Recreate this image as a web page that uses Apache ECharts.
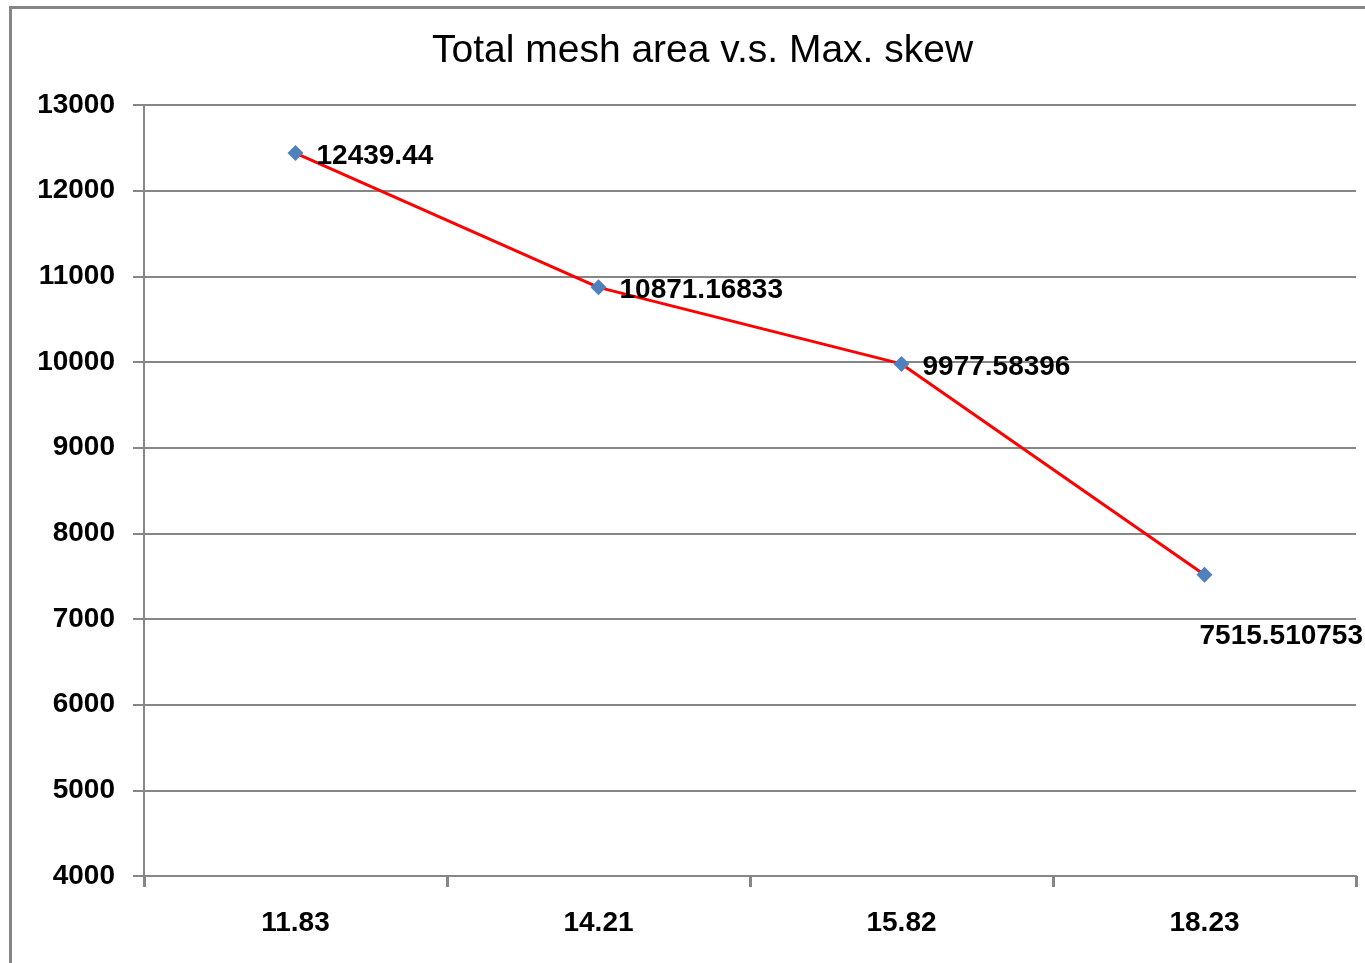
<!DOCTYPE html>
<html>
<head>
<meta charset="utf-8">
<script src="https://cdn.jsdelivr.net/npm/echarts@6/dist/echarts.min.js"></script>
<style>
  html, body { margin: 0; padding: 0; background: #fff; }
  #chart { width: 1365px; height: 963px; }
</style>
</head>
<body>
<div id="chart"></div>
<script>
var skews = ['11.83', '14.21', '15.82', '18.23'];
var areas = [12439.44, 10871.16833, 9977.58396, 7515.510753];
var areaLabels = ['12439.44', '10871.16833', '9977.58396', '7515.510753'];

var gray = '#868686';
var font = '"Liberation Sans", Arial, sans-serif';

var points = areas.map(function(v, i){
    var item = { value: v };
    if (i === areas.length - 1) {
        // last label sits under the point
        item.label = { position: [3, 66], align: 'left', verticalAlign: 'middle' };
    }
    return item;
});

var option = {
    backgroundColor: '#fff',
    animation: false,
    graphic: [{
        type: 'rect',
        shape: { x: 10.5, y: 7.5, width: 1400, height: 1000 },
        style: { fill: 'none', stroke: gray, lineWidth: 3 },
        silent: true
    }],
    title: {
        text: 'Total mesh area v.s. Max. skew',
        left: 427,
        top: 27,
        textStyle: { fontFamily: font, fontSize: 39, fontWeight: 'normal', color: '#000' }
    },
    grid: { left: 144, top: 105, width: 1212, height: 771, containLabel: false },
    xAxis: {
        type: 'category',
        data: skews,
        boundaryGap: true,
        axisLine: { lineStyle: { color: gray, width: 2 } },
        axisTick: { show: true, length: 11, lineStyle: { color: gray, width: 3 } },
        axisLabel: { margin: 33, fontFamily: font, fontSize: 28, fontWeight: 'bold', color: '#000' },
        splitLine: { show: false }
    },
    yAxis: {
        type: 'value',
        min: 4000,
        max: 13000,
        interval: 1000,
        axisLine: { show: true, lineStyle: { color: gray, width: 2 } },
        axisTick: { show: true, length: 11, lineStyle: { color: gray, width: 2 } },
        axisLabel: {
            margin: 29, fontFamily: font, fontSize: 28, fontWeight: 'bold', color: '#000',
            formatter: function(v){ return String(v); }
        },
        splitLine: { show: true, lineStyle: { color: gray, width: 2 } }
    },
    series: [{
        name: 'Total mesh area',
        type: 'line',
        data: points,
        symbol: 'diamond',
        symbolSize: 16,
        itemStyle: { color: '#4f81bd' },
        lineStyle: { color: '#ff0000', width: 3 },
        label: {
            show: true,
            position: 'right',
            distance: 13,
            offset: [0, 3],
            fontFamily: font,
            fontSize: 28,
            fontWeight: 'bold',
            color: '#000',
            formatter: function(p){ return areaLabels[p.dataIndex]; }
        }
    }]
};

var myChart = echarts.init(document.getElementById('chart'));
myChart.setOption(option);
</script>
</body>
</html>
